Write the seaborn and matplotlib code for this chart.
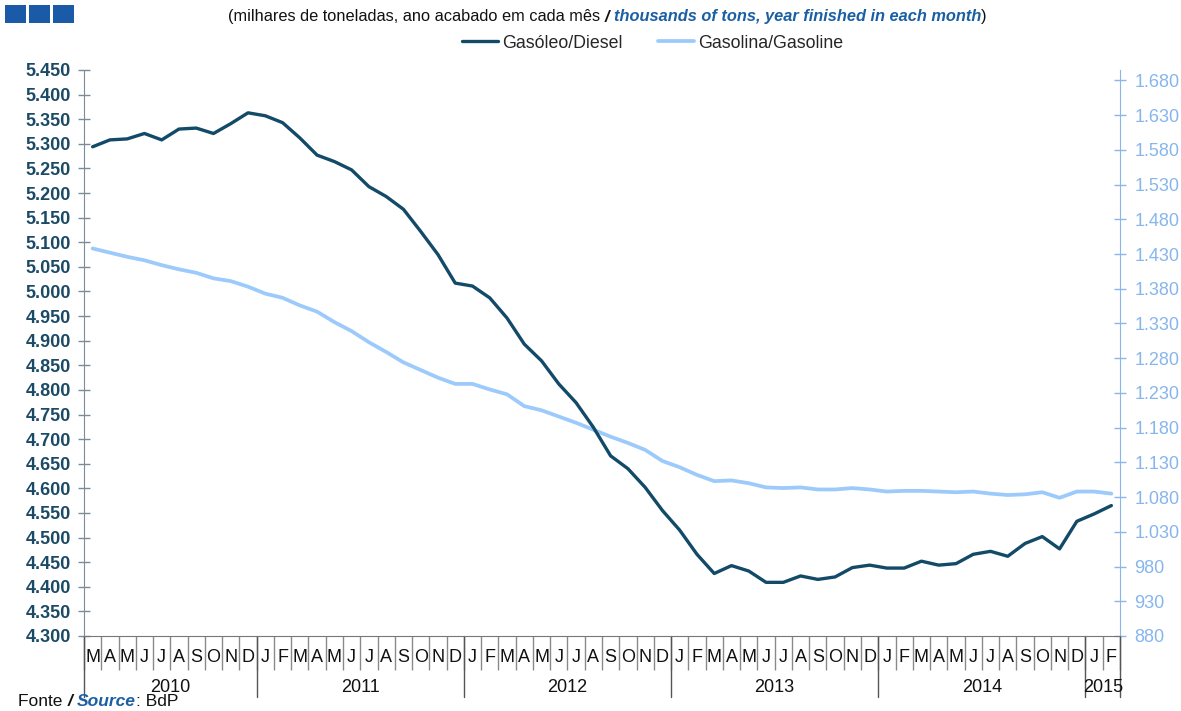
import numpy as np
import pandas as pd
import matplotlib
matplotlib.use("Agg")
import matplotlib.pyplot as plt
from matplotlib.lines import Line2D
from matplotlib.patches import Rectangle
import seaborn as sns

# Monthly series, March 2010 to February 2015 (12-month rolling totals)
months = ["M", "A", "M", "J", "J", "A", "S", "O", "N", "D",
          "J", "F", "M", "A", "M", "J", "J", "A", "S", "O", "N", "D",
          "J", "F", "M", "A", "M", "J", "J", "A", "S", "O", "N", "D",
          "J", "F", "M", "A", "M", "J", "J", "A", "S", "O", "N", "D",
          "J", "F", "M", "A", "M", "J", "J", "A", "S", "O", "N", "D",
          "J", "F"]
years = ["2010", "2011", "2012", "2013", "2014", "2015"]
months_per_year = [10, 12, 12, 12, 12, 2]

diesel = [5.294, 5.308, 5.310, 5.321, 5.308, 5.330, 5.332, 5.321, 5.341, 5.363,
          5.357, 5.343, 5.312, 5.277, 5.264, 5.247, 5.213, 5.193, 5.167, 5.122, 5.075, 5.017,
          5.011, 4.987, 4.946, 4.893, 4.859, 4.812, 4.774, 4.724, 4.666, 4.640, 4.602, 4.555,
          4.515, 4.466, 4.427, 4.443, 4.432, 4.409, 4.409, 4.422, 4.415, 4.420, 4.439, 4.444,
          4.438, 4.438, 4.452, 4.444, 4.447, 4.466, 4.472, 4.462, 4.488, 4.502, 4.477, 4.533,
          4.548, 4.565]
gasoline = [1438, 1432, 1426, 1421, 1414, 1408, 1403, 1395, 1391, 1383,
            1373, 1367, 1356, 1347, 1332, 1319, 1303, 1289, 1274, 1263, 1252, 1243,
            1243, 1235, 1228, 1211, 1205, 1196, 1187, 1177, 1167, 1158, 1148, 1132,
            1123, 1112, 1103, 1104, 1100, 1094, 1093, 1094, 1091, 1091, 1093, 1091,
            1088, 1089, 1089, 1088, 1087, 1088, 1085, 1083, 1084, 1087, 1079, 1088,
            1088, 1085]

left_ticks = np.round(np.arange(4.30, 5.4501, 0.05), 2)
right_ticks = np.arange(880, 1681, 50)

DIESEL_C = "#124a68"
GASOLINE_C = "#9ccafb"
LEFT_LBL_C = "#1b4a66"
RIGHT_LBL_C = "#86b6ec"
BLUE_TXT = "#1a5fa4"

sns.set_style("white")
plt.rcParams["font.family"] = ["Liberation Sans", "DejaVu Sans"]

W, H = 1181, 711
fig = plt.figure(figsize=(W / 100, H / 100), dpi=100)
x0, x1, ytop, ybot = 84, 1120, 70, 636
ax = fig.add_axes([x0 / W, 1 - ybot / H, (x1 - x0) / W, (ybot - ytop) / H])
ax2 = ax.twinx()

df = pd.DataFrame({"pos": np.arange(len(months)), "diesel": diesel, "gasoline": gasoline})

sns.lineplot(data=df, x="pos", y="diesel", ax=ax, color=DIESEL_C, lw=2.4, zorder=3)
sns.lineplot(data=df, x="pos", y="gasoline", ax=ax2, color=GASOLINE_C, lw=2.7, zorder=2)
ax.set_zorder(ax2.get_zorder() + 1)
ax.patch.set_visible(False)

n = len(months)
ax.set_xlim(-0.5, n - 0.5)
ax.set_ylim(4.30, 5.45)
ax2.set_ylim(880, 1695)
ax.set_xlabel("")
ax.set_ylabel("")
ax2.set_ylabel("")

# left axis
ax.set_yticks(left_ticks)
ax.set_yticklabels([f"{v:.3f}" for v in left_ticks])
ax.tick_params(axis="y", which="major", left=True, direction="inout", length=9, width=1,
               color="#7d8b97", pad=5, labelsize=13, labelcolor=LEFT_LBL_C)
for t in ax.get_yticklabels():
    t.set_fontweight("bold")

# right axis
ax2.set_yticks(right_ticks)
ax2.set_yticklabels([f"{v:,}".replace(",", ".") for v in right_ticks])
ax2.tick_params(axis="y", which="major", right=True, direction="inout", length=9, width=1,
                color=RIGHT_LBL_C, pad=6, labelsize=13, labelcolor=RIGHT_LBL_C)

# month labels with separators between cells
ax.set_xticks(np.arange(n))
ax.set_xticklabels(months)
ax.tick_params(axis="x", which="major", bottom=True, length=0, pad=9, labelsize=13,
               labelcolor="#111111")
ax.set_xticks(np.arange(-0.5, n, 1), minor=True)
ax.tick_params(axis="x", which="minor", bottom=True, direction="out", length=24.5, width=1,
               color="#8a8a8a")

for s in ["top", "right"]:
    ax.spines[s].set_visible(False)
ax.spines["left"].set_color("#7d8b97")
ax.spines["bottom"].set_color("#777777")
for s in ["top", "left", "bottom"]:
    ax2.spines[s].set_visible(False)
ax2.spines["right"].set_color(RIGHT_LBL_C)
ax.grid(False)
ax2.grid(False)

# year boundaries and labels
xt = ax.get_xaxis_transform()
bounds = np.concatenate([[0], np.cumsum(months_per_year)]) - 0.5
for b in bounds:
    ax.plot([b, b], [0, -61 / 566], transform=xt, clip_on=False, color="#555555", lw=1)
for i, y in enumerate(years):
    c = (bounds[i] + bounds[i + 1]) / 2
    ax.text(c, -52 / 566, y, transform=xt, ha="center", va="center", fontsize=13, color="#111111")

# legend
handles = [Line2D([], [], color=DIESEL_C, lw=2.4), Line2D([], [], color=GASOLINE_C, lw=2.7)]
fig.legend(handles, ["Gasóleo/Diesel", "Gasolina/Gasoline"], loc="center",
           bbox_to_anchor=(653 / W, 1 - 43 / H), ncol=2, frameon=False, fontsize=12.8,
           handlelength=2.0, handletextpad=0.25, columnspacing=2.0)

# header: logo squares and mixed-style subtitle
for xs in (5, 29, 53):
    fig.add_artist(Rectangle((xs / W, 1 - 23 / H), 21 / W, 18 / H, transform=fig.transFigure,
                             facecolor="#1a5aa6", edgecolor="none"))

def text_run(pieces, x_px, y_px, size):
    fig.canvas.draw()
    r = fig.canvas.get_renderer()
    x = x_px / W
    for txt, kw in pieces:
        t = fig.text(x, 1 - y_px / H, txt, fontsize=size, va="center", ha="left", **kw)
        bb = t.get_window_extent(renderer=r)
        x = bb.x1 / W

bi = dict(fontweight="bold", fontstyle="italic")
text_run([("(milhares de toneladas, ano acabado em cada mês ", dict(color="#111111")),
          ("/ ", dict(color="#111111", **bi)),
          ("thousands of tons, year finished in each month", dict(color=BLUE_TXT, **bi)),
          (")", dict(color="#111111"))], 228, 17, 11.8)

text_run([("Fonte ", dict(color="#111111")),
          ("/ ", dict(color="#111111", **bi)),
          ("Source", dict(color=BLUE_TXT, **bi)),
          (": BdP", dict(color="#111111"))], 18, 702, 12.5)

fig.savefig("out.png", dpi=100)
